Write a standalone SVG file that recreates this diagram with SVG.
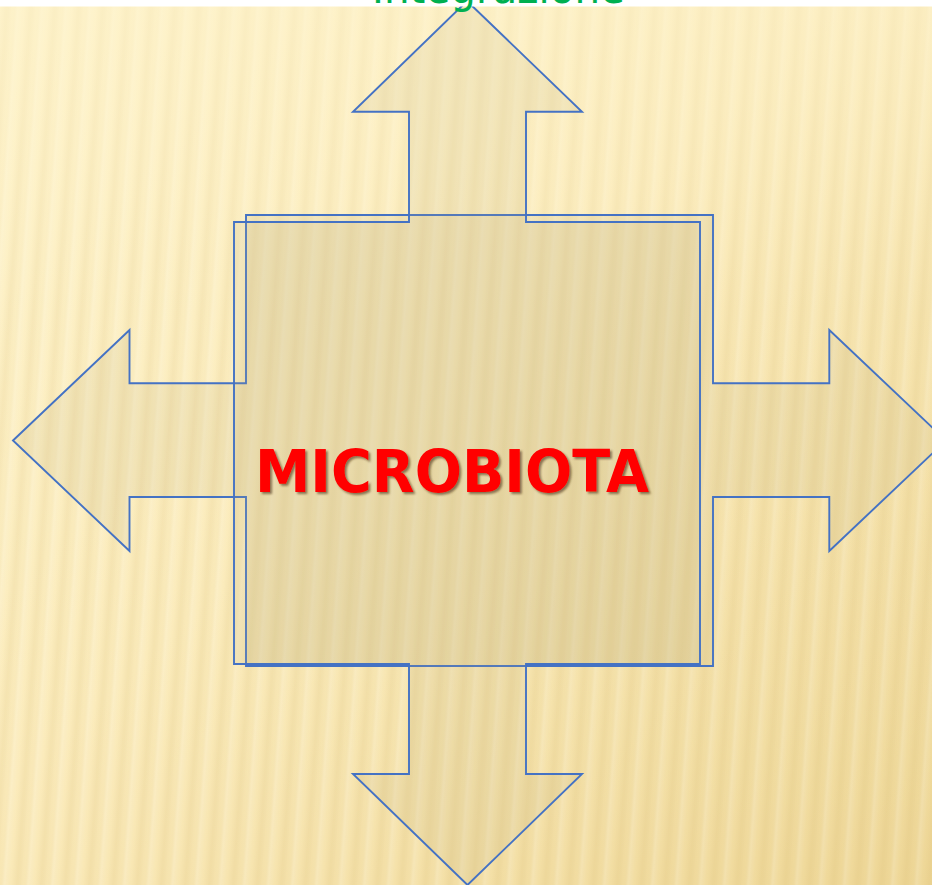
<svg xmlns="http://www.w3.org/2000/svg" width="932" height="885" viewBox="0 0 932 885">
  <defs>
    <linearGradient id="bg" x1="0" y1="0" x2="1" y2="1">
      <stop offset="0" stop-color="#FEF3CB"/>
      <stop offset="0.45" stop-color="#FBEBBB"/>
      <stop offset="1" stop-color="#EED797"/>
    </linearGradient>
    <linearGradient id="stripeGrad" x1="0" y1="0" x2="1" y2="0">
      <stop offset="0" stop-color="#C9A85A" stop-opacity="0"/>
      <stop offset="0.3" stop-color="#C9A85A" stop-opacity="0.14"/>
      <stop offset="0.55" stop-color="#C9A85A" stop-opacity="0.04"/>
      <stop offset="0.75" stop-color="#FFFFFF" stop-opacity="0.16"/>
      <stop offset="1" stop-color="#FFFFFF" stop-opacity="0"/>
    </linearGradient>
    <pattern id="stripes" width="24" height="885" patternUnits="userSpaceOnUse" patternTransform="skewX(-4)">
      <rect x="0" y="0" width="24" height="885" fill="url(#stripeGrad)"/>
    </pattern>
    <linearGradient id="fade" x1="0" y1="0" x2="0" y2="1">
      <stop offset="0" stop-color="#FEF3CB" stop-opacity="0.55"/>
      <stop offset="0.35" stop-color="#FEF3CB" stop-opacity="0.1"/>
      <stop offset="1" stop-color="#FEF3CB" stop-opacity="0"/>
    </linearGradient>
    <filter id="shadow" x="-5%" y="-20%" width="110%" height="140%">
      <feDropShadow dx="2" dy="2" stdDeviation="1" flood-color="#4A2C10" flood-opacity="0.6"/>
    </filter>
    <style>
      .arrow { fill: #B5A77A; fill-opacity: 0.14; stroke: #4472C4; stroke-width: 1.9; stroke-linejoin: miter; }
      .title { font-family: "Comic Sans MS", "DejaVu Sans", sans-serif; font-weight: bold; font-size: 58px; fill: #FF0000; }
      .top { font-family: "Comic Sans MS", "DejaVu Sans", sans-serif; font-size: 44px; fill: #00B050; }
    </style>
  </defs>

  <g id="background">
    <rect x="0" y="0" width="932" height="885" fill="url(#bg)"/>
    <rect x="0" y="0" width="932" height="885" fill="url(#stripes)"/>
    <rect x="0" y="0" width="932" height="885" fill="url(#fade)"/>
  </g>

  <g id="connectors">
    <g id="arrow-horizontal">
      <polygon class="arrow" points="13,440.5 129.5,330 129.5,383.3 246,383.3 246,215 713,215 713,383.3 829.3,383.3 829.3,330 946,440.5 829.3,551 829.3,497 713,497 713,666 246,666 246,497 129.5,497 129.5,551"/>
    </g>
    <g id="arrow-vertical">
      <polygon class="arrow" points="467,1 582,111.7 526,111.7 526,222 700,222 700,664 526,664 526,774 582,774 467.5,885 353,774 409,774 409,664 234,664 234,222 409,222 409,111.7 353,111.7"/>
    </g>
  </g>

  <g id="top-band">
    <rect x="0" y="0" width="932" height="6.5" fill="#FFFFFF"/>
    <text class="top" x="372" y="3" textLength="253" lengthAdjust="spacingAndGlyphs">Integrazione</text>
  </g>

  <g id="node-microbiota">
    <text class="title" x="255" y="492" filter="url(#shadow)" textLength="394" lengthAdjust="spacingAndGlyphs">MICROBIOTA</text>
  </g>
</svg>
